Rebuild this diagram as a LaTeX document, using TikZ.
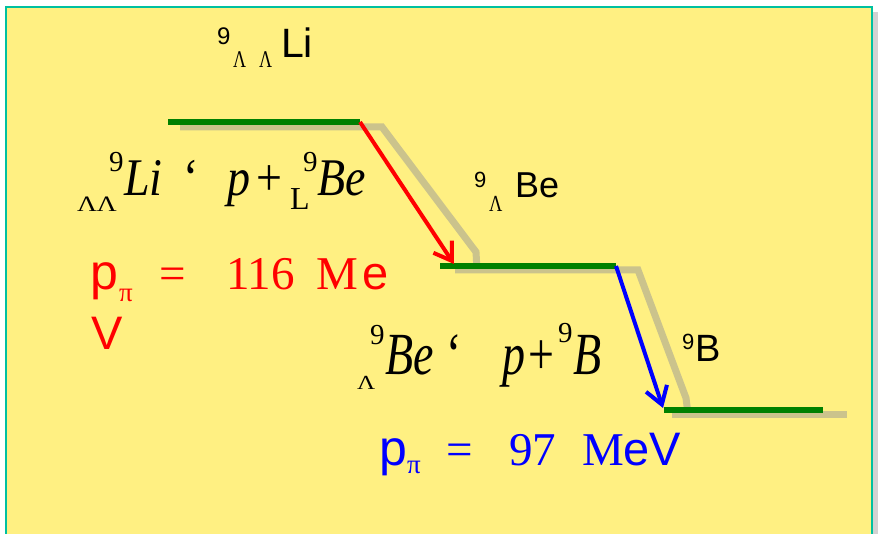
\documentclass[tikz,border=0pt]{standalone}
\usepackage{fontspec}
\setmainfont{Liberation Serif}
\newfontfamily\arial{Liberation Sans}
\usetikzlibrary{arrows.meta}
\definecolor{bg}{RGB}{255,240,130}
\definecolor{frame}{RGB}{0,192,160}
\definecolor{lvl}{RGB}{0,128,0}
\definecolor{shade}{RGB}{203,195,140}
\definecolor{sidegray}{RGB}{210,210,210}
\newcommand\fs[1]{\fontsize{#1}{#1}\selectfont}
\newcommand\tall[3]{\scalebox{1}[#1]{\fs{#2}#3}}
\newcommand\wide[3]{\scalebox{#1}[1]{\fs{#2}#3}}
\begin{document}
\begin{tikzpicture}[x=1pt,y=-1pt,
  lbl/.style={anchor=base west, inner sep=0pt, outer sep=0pt},
  level/.style={draw=lvl, line width=6pt},
  shadowline/.style={draw=shade, line width=7pt, line join=miter},
  trans/.style={line width=4pt, -{Straight Barb[length=17pt,width=22pt,line width=4pt]}}]
\useasboundingbox (0,0) rectangle (878,534);
\clip (0,0) rectangle (878,534);
\fill[white] (0,0) rectangle (878,534);
\fill[sidegray] (873,12) rectangle (878,540);
\filldraw[fill=bg, draw=frame, line width=2pt] (6,7) rectangle (872,560);

% shadow of the level scheme
\draw[shadowline] (180,127) -- (382,127) -- (476,252) -- (477,270);
\draw[shadowline] (455,270) -- (638,270) -- (686,398) -- (688,414);
\draw[shadowline] (672,414) -- (847,414);

% levels
\coordinate (L1a) at (168,122); \coordinate (L1b) at (360,122);
\coordinate (L2a) at (440,266); \coordinate (L2b) at (616,266);
\coordinate (L3a) at (664,410); \coordinate (L3b) at (823,410);
\draw[level] (L1a) -- (L1b);
\draw[level] (L2a) -- (L2b);
\draw[level] (L3a) -- (L3b);

% transitions
\coordinate (T1) at (454,264);
\coordinate (T2) at (663,408);
\draw[trans, red] (L1b) -- (T1);
\draw[trans, blue] (L2b) -- (T2);

% level labels
\node[lbl] (a9) at (217,45) {\arial\fs{24}9};
\node[lbl] (aL) at (233,68) {\wide{0.75}{24}{Λ}\hspace{13pt}\wide{0.75}{24}{Λ}};
\node[lbl] (aLi) at (281,58) {\arial\fs{41}Li};

\node[lbl] (b9) at (474,188) {\arial\fs{22}9};
\node[lbl] (bL) at (489,212) {\wide{0.8}{23}{Λ}};
\node[lbl] (bBe) at (515,198) {\arial\fs{36}Be};

\node[lbl] (c9) at (682,350) {\arial\fs{22}9};
\node[lbl] (cB) at (695,362) {\arial\fs{38}B};

% equation 1
\node[lbl] (e1LL) at (77,212) {\wide{1.25}{22}{ΛΛ}};
\node[lbl] (e1n) at (109,172) {\fs{29}9};
\node[lbl] (e1Li) at (124,196) {\tall{1.15}{46}{\itshape Li}};
\node[lbl] (e1q) at (183,196) {\tall{1.15}{46}{‘}};
\node[lbl] (e1p) at (227,196) {\tall{1.15}{46}{\itshape p}};
\node[lbl] (e1plus) at (256,196) {\tall{1.15}{46}{+}};
\node[lbl] (e1L) at (290,210) {\fs{32}L};
\node[lbl] (e1n2) at (303,172) {\fs{29}9};
\node[lbl] (e1Be) at (317,196) {\tall{1.15}{46}{\itshape Be}};

% equation 2
\node[lbl] (e2L) at (357,390) {\wide{1.25}{20}{Λ}};
\node[lbl] (e2n) at (370,345) {\fs{29}9};
\node[lbl] (e2Be) at (385,375) {\tall{1.3}{46}{\itshape Be}};
\node[lbl] (e2q) at (446,375) {\tall{1.3}{46}{‘}};
\node[lbl] (e2p) at (502,375) {\tall{1.3}{46}{\itshape p}};
\node[lbl] (e2plus) at (528,375) {\tall{1.3}{46}{+}};
\node[lbl] (e2n2) at (558,343) {\fs{29}9};
\node[lbl] (e2B) at (573,375) {\tall{1.3}{46}{\itshape B}};

% red momentum
\begin{scope}[red]
\node[lbl] (rp) at (90,290) {\arial\fs{50}p};
\node[lbl] (rpi) at (119,302) {\fs{27}π};
\node[lbl] (req) at (159,290) {\fs{47}=};
\node[lbl] (rnum) at (226,290) {\fs{47}116};
\node[lbl] (rM) at (316,290) {\fs{47}M};
\node[lbl] (re) at (362,290) {\arial\fs{47}e};
\node[lbl] (rV) at (91,350) {\arial\fs{47}V};
\end{scope}

% blue momentum
\begin{scope}[blue]
\node[lbl] (bp) at (379,465) {\arial\fs{50}p};
\node[lbl] (bpi) at (407,473) {\fs{27}π};
\node[lbl] (beq) at (446,465) {\fs{47}=};
\node[lbl] (bnum) at (509,465) {\fs{47}97};
\node[lbl] (bM) at (582,465) {\fs{47}M};
\node[lbl] (beV) at (623,465) {\arial\fs{47}eV};
\end{scope}
\end{tikzpicture}
\end{document}
